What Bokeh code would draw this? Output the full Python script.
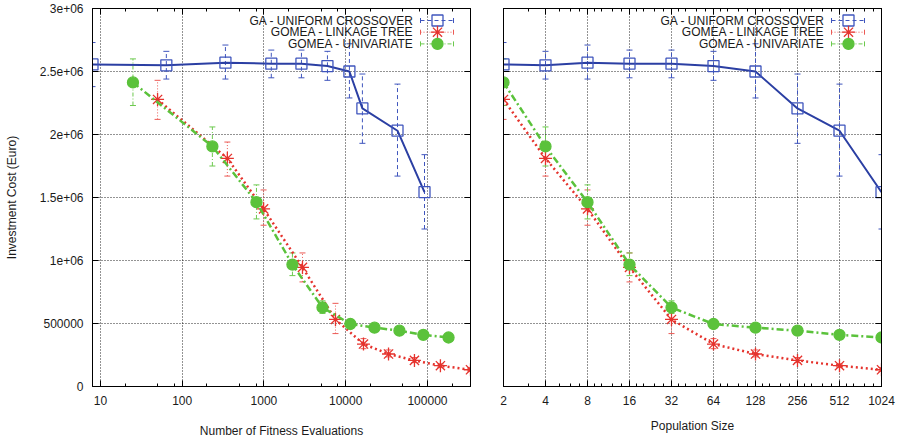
import numpy as np
from bokeh.plotting import figure
from bokeh.layouts import row
from bokeh.models import (ColumnDataSource, Whisker, TeeHead, FixedTicker, Range1d,
                          LogAxis, LinearAxis, CustomJSTickFormatter, Label)
from bokeh.embed import file_html
from bokeh.resources import INLINE

# ---------------- data ----------------
series_names = ["GA - UNIFORM CROSSOVER", "GOMEA - LINKAGE TREE", "GOMEA - UNIVARIATE"]

pop_sizes = [2, 4, 8, 16, 32, 64, 128, 256, 512, 1024]

ga_evals = [8, 64, 338, 1230, 2875, 5980, 11100, 16000, 43000, 92000]
ga_cost = [2.556e6, 2.549e6, 2.570e6, 2.562e6, 2.562e6, 2.543e6, 2.500e6, 2.207e6, 2.030e6, 1.542e6]
ga_hi = [2.73e6, 2.66e6, 2.71e6, 2.67e6, 2.67e6, 2.66e6, 2.72e6, 2.48e6, 2.40e6, 1.84e6]
ga_lo = [2.38e6, 2.44e6, 2.44e6, 2.45e6, 2.45e6, 2.43e6, 2.29e6, 1.93e6, 1.67e6, 1.25e6]

lt_evals = [50, 357, 990, 2960, 7500, 16500, 33400, 69300, 144000, 336000]
lt_cost = [2.278e6, 1.81e6, 1.41e6, 0.945e6, 0.532e6, 0.337e6, 0.258e6, 0.207e6, 0.165e6, 0.133e6]
lt_hi = [2.43e6, 1.94e6, 1.56e6, 1.06e6, 0.66e6, 0.38e6, 0.29e6, 0.23e6, 0.18e6, 0.15e6]
lt_lo = [2.12e6, 1.67e6, 1.28e6, 0.83e6, 0.42e6, 0.30e6, 0.235e6, 0.19e6, 0.15e6, 0.12e6]

uv_evals = [25, 234, 810, 2230, 5200, 11400, 22500, 45400, 89000, 181000]
uv_cost = [2.413e6, 1.905e6, 1.463e6, 0.968e6, 0.627e6, 0.496e6, 0.467e6, 0.443e6, 0.410e6, 0.389e6]
uv_hi = [2.60e6, 2.06e6, 1.60e6, 1.06e6, 0.68e6, 0.53e6, 0.50e6, 0.475e6, 0.44e6, 0.415e6]
uv_lo = [2.23e6, 1.75e6, 1.33e6, 0.88e6, 0.58e6, 0.46e6, 0.44e6, 0.415e6, 0.385e6, 0.365e6]

y_ticks = [0, 500000, 1000000, 1500000, 2000000, 2500000, 3000000]
y_tick_labels = ["0", "500000", "1e+06", "1.5e+06", "2e+06", "2.5e+06", "3e+06"]
eval_ticks = [10, 100, 1000, 10000, 100000]
eval_tick_labels = ["10", "100", "1000", "10000", "100000"]
eval_minor = [20, 50, 80, 200, 500, 800, 2000, 5000, 8000, 20000, 50000, 80000, 200000]
pop_tick_labels = ["2", "4", "8", "16", "32", "64", "128", "256", "512", "1024"]
pop_minor = [3, 5, 6, 7, 9, 10, 12, 14, 18, 20, 24, 28, 36, 40, 48, 56, 72, 80, 96, 112,
             144, 160, 192, 224, 288, 320, 384, 448, 576, 640, 768, 896]

y_title = "Investment Cost (Euro)"
x_title_left = "Number of Fitness Evaluations"
x_title_right = "Population Size"

# ---------------- style ----------------
FONT = "Liberation Sans"
TEXT = "#1a1a1a"
FS = "12px"
FRAME = 378
Y0, Y1 = 0, 3000000

STYLES = [
    dict(line="#2b3fa3", mark="#3f55bd", width=2, dash="solid", err="#3f55bd", err_dash="4 3",
         marker="square", size=11, fill=None),
    dict(line="#e5332d", mark="#e5332d", width=2.5, dash="2 3", err="#ec5a55", err_dash="1 2",
         marker="asterisk", size=13, fill=None),
    dict(line="#5bc23b", mark="#5bc23b", width=2.5, dash="7 3 2 3", err="#6cc94e", err_dash="4 2 1 2",
         marker="circle", size=11, fill="#5bc23b"),
]


def style_axis(ax, labels=True):
    ax.major_tick_in = 6
    ax.major_tick_out = 0
    ax.minor_tick_in = 3
    ax.minor_tick_out = 0
    ax.major_tick_line_color = "black"
    ax.minor_tick_line_color = "black"
    ax.axis_line_color = "black"
    ax.axis_line_width = 1
    ax.major_label_text_font = FONT
    ax.major_label_text_color = TEXT
    ax.axis_label_text_font = FONT
    ax.axis_label_text_font_size = FS
    ax.axis_label_text_font_style = "normal"
    ax.axis_label_text_color = TEXT
    if labels:
        ax.major_label_text_font_size = FS
    else:
        ax.formatter = CustomJSTickFormatter(code="return ''")
        ax.major_label_text_font_size = "1px"
        ax.major_label_standoff = 0


def make_plot(datasets, xr, xticks, xminor, xlabels, xtitle, width, b_left, b_right,
              show_y, x_title_standoff):
    p = figure(width=width, height=440, x_axis_type="log",
               x_range=Range1d(xr[0], xr[1]), y_range=Range1d(Y0, Y1),
               output_backend="svg", toolbar_location=None,
               min_border_left=b_left, min_border_right=b_right,
               min_border_top=8, min_border_bottom=54,
               background_fill_color="white", border_fill_color="white")
    p.outline_line_color = "black"
    p.outline_line_width = 1

    xt = FixedTicker(ticks=xticks, minor_ticks=xminor)
    yt = FixedTicker(ticks=y_ticks, minor_ticks=[])

    xa = p.xaxis[0]
    xa.ticker = xt
    xa.major_label_overrides = {t: l for t, l in zip(xticks, xlabels)}
    style_axis(xa)
    xa.axis_label = xtitle
    xa.major_label_standoff = 9
    xa.axis_label_standoff = x_title_standoff

    ya = p.yaxis[0]
    ya.ticker = yt
    if show_y:
        ya.major_label_overrides = {t: l for t, l in zip(y_ticks, y_tick_labels)}
        style_axis(ya)
        ya.axis_label = y_title
        ya.major_label_standoff = 9
        ya.axis_label_standoff = 18
    else:
        style_axis(ya, labels=False)

    top = LogAxis(ticker=xt)
    style_axis(top, labels=False)
    p.add_layout(top, "above")
    right = LinearAxis(ticker=yt)
    style_axis(right, labels=False)
    p.add_layout(right, "right")

    for g in (p.xgrid[0], p.ygrid[0]):
        g.grid_line_color = "black"
        g.grid_line_dash = "1 2"
        g.grid_line_alpha = 0.85
        g.grid_line_width = 1

    for (xs, ys, lo, hi), st in zip(datasets, STYLES):
        src = ColumnDataSource(dict(x=xs, y=ys, lo=lo, hi=hi))
        w = Whisker(source=src, base="x", upper="hi", lower="lo", dimension="height",
                    line_color=st["err"], line_dash=st["err_dash"], line_width=1,
                    upper_head=TeeHead(size=6, line_color=st["err"], line_width=1),
                    lower_head=TeeHead(size=6, line_color=st["err"], line_width=1))
        p.add_layout(w)
        p.line("x", "y", source=src, line_color=st["line"], line_width=st["width"],
               line_dash=st["dash"])
        p.scatter("x", "y", source=src, marker=st["marker"], size=st["size"],
                  line_color=st["mark"], line_width=1.3,
                  fill_color=st["fill"], fill_alpha=1.0 if st["fill"] else 0.0)

    # legend (gnuplot style: text on the left, sample on the right)
    lx0, lx1 = np.log10(xr[0]), np.log10(xr[1])

    def dx(px):
        return float(10 ** (lx0 + px / FRAME * (lx1 - lx0)))

    def dy(py):
        return Y1 - py / FRAME * (Y1 - Y0)

    for i, (name, st) in enumerate(zip(series_names, STYLES)):
        py = 12 + 11.7 * i
        yy = dy(py)
        p.add_layout(Label(x=dx(FRAME - 57), y=yy, text=name, text_align="right",
                           text_baseline="middle", text_font=FONT, text_font_size=FS,
                           text_color=TEXT))
        xa_, xb_ = dx(FRAME - 50), dx(FRAME - 17)
        p.line([xa_, xb_], [yy, yy], line_color=st["err"], line_width=1,
               line_dash=st["err_dash"])
        p.segment(x0=[xa_, xb_], y0=[dy(py - 2.5)] * 2, x1=[xa_, xb_], y1=[dy(py + 2.5)] * 2,
                  line_color=st["err"], line_width=1)
        p.scatter([dx(FRAME - 33)], [yy], marker=st["marker"], size=st["size"],
                  line_color=st["mark"], line_width=1.3,
                  fill_color=st["fill"], fill_alpha=1.0 if st["fill"] else 0.0)
    return p


left_sets = [(ga_evals, ga_cost, ga_lo, ga_hi),
             (lt_evals, lt_cost, lt_lo, lt_hi),
             (uv_evals, uv_cost, uv_lo, uv_hi)]
right_sets = [(pop_sizes, ga_cost, ga_lo, ga_hi),
              (pop_sizes, lt_cost, lt_lo, lt_hi),
              (pop_sizes, uv_cost, uv_lo, uv_hi)]

all_evals = ga_evals + lt_evals + uv_evals
p1 = make_plot(left_sets, (min(all_evals), max(all_evals)), eval_ticks, eval_minor,
               eval_tick_labels, x_title_left, 478, 92, 8, True, 16)
p2 = make_plot(right_sets, (min(pop_sizes), max(pop_sizes)), pop_sizes, pop_minor,
               pop_tick_labels, x_title_right, 422, 25, 19, False, 11)

layout = row(p1, p2)
open("out.html", "w").write(file_html(layout, INLINE))
